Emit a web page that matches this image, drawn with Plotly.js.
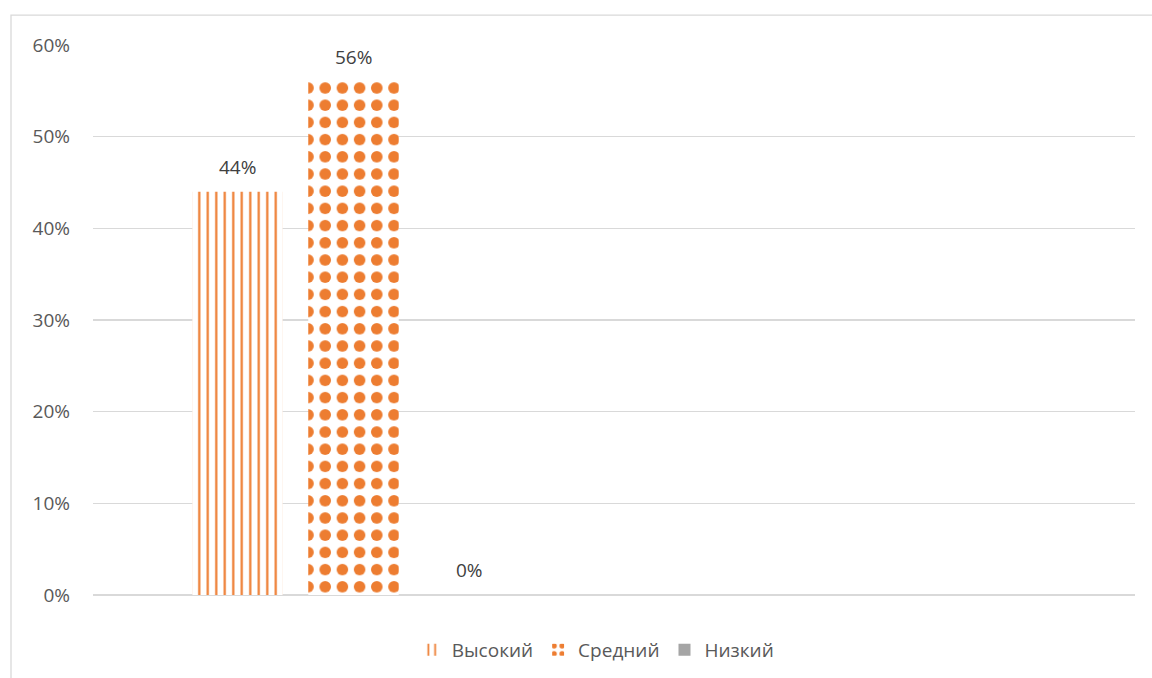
<!DOCTYPE html>
<html>
<head>
<meta charset="utf-8">
<script src="https://cdn.plot.ly/plotly-3.0.1.min.js"></script>
<style>
  html, body { margin: 0; padding: 0; background: #fff; }
  #chart { width: 1152px; height: 678px; }
</style>
</head>
<body>
<div id="chart"></div>
<script>
// Distribution of levels (share of respondents)
const categories = ['Уровень'];
const seriesNames = ['Высокий', 'Средний', 'Низкий'];
const valHigh = [0.44];
const valMid = [0.56];
const valLow = [0.00];
const yTickVals = [0, 0.1, 0.2, 0.3, 0.4, 0.5, 0.6];
const yTickText = ['0%', '10%', '20%', '30%', '40%', '50%', '60%'];

const ORANGE = '#ED7D31';
const GREY = '#A5A5A5';
const TEXT = '#595959';
const LABEL = '#404040';
const GRID = '#D9D9D9';
const FONT = 'Open Sans, Liberation Sans, sans-serif';
const FS = 19;

const W = 1152, H = 678;
const M = { l: 93, r: 17, t: 45, b: 83, autoexpand: false };
const BARGAP = 0.332;
const BARGROUPGAP = 0.22;
const N_SLOTS = 2; // one filled category plus an empty one to its right

function barTrace(name, values, marker) {
  return {
    type: 'bar',
    name: name,
    x: categories,
    y: values,
    marker: marker,
    textposition: 'none',
    cliponaxis: false,
    hoverinfo: 'skip'
  };
}

const seriesValues = [valHigh, valMid, valLow];

const traces = [
  barTrace(seriesNames[0], valHigh, {
    color: ORANGE,
    line: { width: 0 },
    pattern: { shape: '|', fgcolor: ORANGE, bgcolor: '#FFFFFF', size: 8.5, solidity: 0.26, fillmode: 'replace' }
  }),
  barTrace(seriesNames[1], valMid, {
    color: ORANGE,
    line: { width: 0 },
    pattern: { shape: '.', fgcolor: ORANGE, bgcolor: '#FFFFFF', size: 17.2, solidity: 0.36, fillmode: 'replace' }
  }),
  barTrace(seriesNames[2], valLow, {
    color: GREY,
    line: { width: 0 }
  })
];

// Value labels above each bar of the group: offset each label to its bar's slot
const plotW = W - M.l - M.r;
const slotW = plotW / N_SLOTS * (1 - BARGAP) / seriesValues.length;
const annotations = seriesValues.map((vals, i) => ({
  xref: 'x', yref: 'y',
  x: categories[0],
  y: vals[0],
  text: Math.round(vals[0] * 100) + '%',
  showarrow: false,
  xanchor: 'center',
  yanchor: 'bottom',
  xshift: (i - (seriesValues.length - 1) / 2) * slotW,
  yshift: 10,
  font: { family: FONT, size: FS, color: LABEL }
}));

const layout = {
  width: W,
  height: H,
  margin: M,
  paper_bgcolor: '#FFFFFF',
  plot_bgcolor: '#FFFFFF',
  font: { family: FONT, size: FS, color: TEXT },
  barmode: 'group',
  bargap: BARGAP,
  bargroupgap: BARGROUPGAP,
  showlegend: true,
  legend: {
    orientation: 'h',
    x: 0.482, xanchor: 'center',
    y: -0.1, yanchor: 'middle',
    font: { family: FONT, size: FS, color: TEXT },
    itemwidth: 30,
    tracegroupgap: 0,
    traceorder: 'normal'
  },
  xaxis: {
    type: 'category',
    categoryorder: 'array',
    categoryarray: [categories[0], ' '],
    range: [-0.5, 1.5],
    showticklabels: false,
    showgrid: false,
    zeroline: false,
    showline: false,
    ticks: ''
  },
  yaxis: {
    range: [0, 0.6],
    tickvals: yTickVals,
    ticktext: yTickText,
    showgrid: true,
    gridcolor: GRID,
    gridwidth: 1.3,
    zeroline: true,
    zerolinecolor: GRID,
    zerolinewidth: 1.3,
    showline: false,
    ticks: '',
    ticklabelstandoff: 22,
    tickfont: { family: FONT, size: FS, color: TEXT }
  },
  annotations: annotations,
  shapes: [{
    type: 'rect',
    xref: 'paper', yref: 'paper',
    x0: -0.0787, x1: 1.05,
    y0: -0.3, y1: 1.0545,
    line: { color: GRID, width: 1.3 },
    fillcolor: 'rgba(0,0,0,0)',
    layer: 'below'
  }]
};

Plotly.newPlot('chart', traces, layout, { displayModeBar: false, staticPlot: true });
</script>
</body>
</html>
